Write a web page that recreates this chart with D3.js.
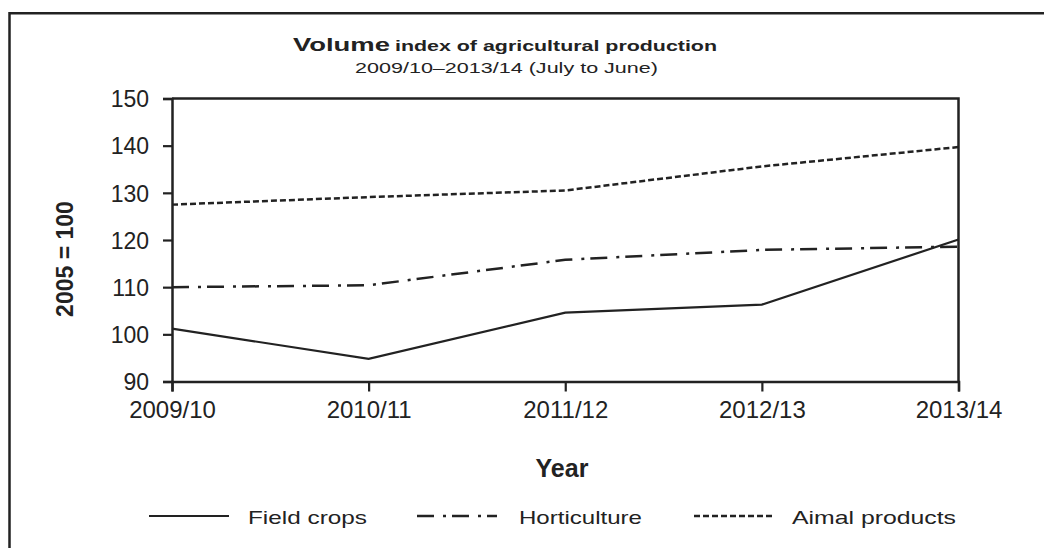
<!DOCTYPE html>
<html><head><meta charset="utf-8">
<script src="https://cdn.jsdelivr.net/npm/d3@7/dist/d3.min.js"></script>
<style>
body{margin:0;background:#fff;}
text{font-family:"Liberation Sans",Arial,sans-serif;fill:#222;}
</style></head>
<body>
<svg id="chart" width="1044" height="548"></svg>
<script>
const years = ["2009/10","2010/11","2011/12","2012/13","2013/14"];
const fieldCrops = [101.2, 94.8, 104.6, 106.3, 120.1];
const horticulture = [110.0, 110.4, 115.8, 117.9, 118.6];
const animalProducts = [127.5, 129.1, 130.5, 135.6, 139.7];
const yTicks = [90,100,110,120,130,140,150];
const seriesNames = ["Field crops","Horticulture","Aimal products"];

const svg = d3.select("#chart");
const W = 1044, H = 548;
const pLeft = 172, pRight = 958.5, pTop = 98.5, pBottom = 381.5;
const ink = "#222";

// outer frame (left & top)
svg.append("path").attr("d", `M9.5,${H} L9.5,13.3 L${W},13.3`).attr("fill","none").attr("stroke",ink).attr("stroke-width",2.5);

const x = d3.scalePoint().domain(years).range([pLeft,pRight]);
const y = d3.scaleLinear().domain([90,150]).range([pBottom,pTop]);

// plot box top & right
svg.append("path").attr("d",`M${pLeft},${pTop} L${pRight},${pTop} L${pRight},${pBottom}`).attr("fill","none").attr("stroke",ink).attr("stroke-width",2.5);

const yAxis = svg.append("g").attr("transform",`translate(${pLeft},0)`)
  .call(d3.axisLeft(y).tickValues(yTicks).tickSize(9).tickPadding(14));
const xAxis = svg.append("g").attr("transform",`translate(0,${pBottom})`)
  .call(d3.axisBottom(x).tickSize(10).tickPadding(9));
[yAxis,xAxis].forEach(a=>{
  a.selectAll("path.domain").attr("stroke",ink).attr("stroke-width",2.5);
  a.selectAll(".tick line").attr("stroke",ink).attr("stroke-width",2.2);
  a.selectAll("text").style("font-family",'"Liberation Sans",Arial,sans-serif').attr("fill",ink);
});
yAxis.selectAll("text").style("font-size","23px").attr("dy","0.36em");
xAxis.selectAll("text").style("font-size","24px").attr("dy","0.72em");

const styles = [
  {data: fieldCrops, dash: null, w: 2.2},
  {data: horticulture, dash: "17,9,3,6", w: 2.5},
  {data: animalProducts, dash: "6,3", w: 2.5}
];
const line = d3.line().x((d,i)=>x(years[i])).y(d=>y(d));
styles.forEach(s=>{
  svg.append("path").datum(s.data).attr("d",line).attr("fill","none")
    .attr("stroke",ink).attr("stroke-width",s.w)
    .attr("stroke-dasharray",s.dash);
});

// Title
svg.append("text").attr("x",293).attr("y",51).style("font-weight","bold").style("font-size","19px")
  .attr("textLength",97).attr("lengthAdjust","spacingAndGlyphs").text("Volume");
svg.append("text").attr("x",395).attr("y",51).style("font-weight","bold").style("font-size","15px")
  .attr("textLength",322).attr("lengthAdjust","spacingAndGlyphs").text("index of agricultural production");
svg.append("text").attr("x",355).attr("y",73).style("font-size","14.5px")
  .attr("textLength",303).attr("lengthAdjust","spacingAndGlyphs").text("2009/10\u20132013/14  (July to June)");

// Axis titles
svg.append("text").attr("transform","translate(73,259) rotate(-90)").attr("text-anchor","middle")
  .style("font-weight","bold").style("font-size","23px").text("2005 = 100");
svg.append("text").attr("x",562).attr("y",477).attr("text-anchor","middle")
  .style("font-weight","bold").style("font-size","25px").text("Year");

// Legend
const legLineX = [149, 417, 694];
const legTextX = [248, 519, 792];
const legTextW = [119, 123, 164];
const legY = 516;
styles.forEach((s,i)=>{
  svg.append("line").attr("x1",legLineX[i]).attr("x2",legLineX[i]+80).attr("y1",legY).attr("y2",legY)
    .attr("stroke",ink).attr("stroke-width",s.w).attr("stroke-dasharray",s.dash);
  svg.append("text").attr("x",legTextX[i]).attr("y",legY+7.5).style("font-size","19px")
    .attr("textLength",legTextW[i]).attr("lengthAdjust","spacingAndGlyphs").text(seriesNames[i]);
});
</script>
</body></html>
